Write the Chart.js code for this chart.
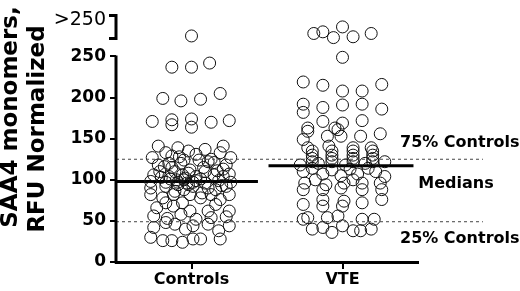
<!DOCTYPE html>
<html>
<head>
<meta charset="utf-8">
<script src="https://cdn.jsdelivr.net/npm/chart.js@4"></script>
<style>
  html, body { margin: 0; padding: 0; background: #fff; }
</style>
</head>
<body>
<canvas id="saa4" width="520" height="291"></canvas>
<script>
  // Groups along the x-axis
  const categories = ['Controls', 'VTE'];
  // Tick labels on the y-axis, and the broken-axis label above them
  const yTicks = [0, 50, 100, 150, 200, 250];
  const overflowLabel = '>250';
  const overflowAt = 294;
  const yTitle = ['SAA4 monomers,', 'RFU Normalized'];

  // Controls: RFU values and horizontal jitter (in category units)
  const controlsValues = [
    275,
    237, 237, 242,
    199, 196, 198, 205,
    171, 173, 167, 174, 164, 170, 172,
    141, 139, 137, 141,
    127, 129, 124, 125, 127, 133, 131, 133,
    118, 115, 112, 115, 113, 120, 121,
    106, 104, 106, 104, 106, 107, 110, 108, 110, 110,
    100, 100, 98, 97, 97, 101, 99, 97, 96, 101,
    90, 92, 94, 92, 90, 92, 88, 88,
    82, 82, 82, 82, 82, 78, 78, 76,
    66, 68, 62, 62, 62, 72, 72, 70,
    56, 58, 54, 52, 53, 55,
    42, 46, 44, 46, 44, 48, 40, 38,
    30, 26, 26, 24, 28, 28, 28,
    102, 97, 99, 94, 103, 96, 104, 120, 124, 118,
    135, 128, 111, 86, 84, 116, 122, 93
  ];
  const controlsJitter = [
    0,
    -0.13, 0, 0.12,
    -0.19, -0.07, 0.06, 0.19,
    -0.26, -0.13, -0.13, 0, 0, 0.13, 0.25,
    -0.22, -0.09, 0.09, 0.21,
    -0.26, -0.13, -0.05, 0.13, 0.26, -0.17, 0.03, 0.19,
    -0.22, -0.13, -0.01, 0.08, 0.21, -0.07, 0.15,
    -0.25, -0.15, -0.06, 0.03, 0.15, 0.25, -0.21, -0.02, 0.09, -0.11,
    -0.10, -0.05, -0.27, -0.17, 0.01, 0.06, 0.18, 0.26, -0.03, -0.14,
    -0.27, -0.17, -0.09, 0.01, 0.11, 0.23, -0.05, 0.16,
    -0.27, -0.12, -0.01, 0.13, 0.25, -0.19, 0.06, 0.19,
    -0.23, -0.12, -0.01, 0.11, 0.25, -0.17, -0.06, 0.16,
    -0.25, -0.07, 0.13, 0.03, -0.16, 0.23,
    -0.25, -0.11, 0.01, 0.11, 0.25, -0.17, -0.04, 0.18,
    -0.27, -0.19, -0.13, -0.06, 0.06, 0.19, 0.01,
    -0.04, -0.09, 0.03, -0.02, -0.20, 0.09, 0.21, -0.15, 0.05, 0.23,
    -0.02, -0.08, 0.17, -0.11, 0.07, -0.18, 0.11, 0.20
  ];

  // VTE: RFU values and horizontal jitter
  const vteValues = [
    278, 280, 273, 286, 274, 278,
    249,
    219, 215, 208, 208, 216,
    192, 182, 188, 191, 192, 186,
    171, 169, 172, 163, 163,
    159, 153, 161, 153, 156, 149, 153,
    139, 141, 139, 139,
    135, 130, 126, 122, 135, 130, 126, 122, 135, 130, 126, 122, 135, 130, 126, 122,
    118, 120, 118, 120, 122,
    110, 107, 105, 107, 110, 104, 114, 112, 113, 114,
    96, 94, 96, 96, 96, 100, 100,
    88, 88, 90, 88, 88,
    76, 76, 74,
    70, 68, 68, 72,
    52, 54, 54, 56, 52, 52,
    40, 42, 44, 38, 40, 36, 38
  ];
  const vteJitter = [
    -0.19, -0.13, -0.06, 0, 0.07, 0.19,
    0,
    -0.26, -0.13, 0, 0.13, 0.26,
    -0.26, -0.26, -0.13, 0, 0.13, 0.26,
    -0.13, 0, 0.13, -0.23, -0.05,
    -0.23, -0.10, -0.03, 0.12, 0.25, -0.26, -0.01,
    -0.23, -0.09, 0.07, 0.19,
    -0.20, -0.20, -0.20, -0.20, -0.07, -0.07, -0.07, -0.07, 0.07, 0.07, 0.07, 0.07, 0.20, 0.20, 0.20, 0.20,
    -0.28, -0.16, 0.02, 0.15, 0.28,
    -0.26, -0.13, -0.01, 0.10, 0.22, 0.28, -0.20, -0.07, 0.05, 0.17,
    -0.25, -0.11, 0.01, 0.13, 0.25, -0.18, 0.07,
    -0.26, -0.13, -0.01, 0.13, 0.26,
    0.26, -0.13, 0.01,
    -0.26, -0.13, 0, 0.13,
    -0.26, -0.23, -0.10, -0.03, 0.13, 0.21,
    -0.20, -0.13, 0, 0.07, 0.19, -0.07, 0.12
  ];

  const medians = [98, 117];
  const quartiles = { low: 49, high: 125 };

  const FONT = '"DejaVu Sans", "Liberation Sans", Arial, sans-serif';

  const points = (vals, jit, group) => vals.map((v, i) => ({ x: group + jit[i], y: v }));

  const circles = (data) => ({
    type: 'scatter',
    data: data,
    pointRadius: 6,
    pointHoverRadius: 6,
    pointBorderWidth: 1,
    borderColor: '#111',
    backgroundColor: 'rgba(0,0,0,0)'
  });

  const hline = (x0, x1, y, dashed) => ({
    type: 'line',
    data: [{ x: x0, y: y }, { x: x1, y: y }],
    borderColor: dashed ? '#444' : '#000',
    borderWidth: dashed ? 1 : 3,
    borderDash: dashed ? [3, 3] : [],
    pointRadius: 0,
    clip: false
  });

  // Broken y-axis line, bracket for >250, axis title and the right-hand notes
  const axisPlugin = {
    id: 'axisPlugin',
    afterDraw(chart) {
      const { ctx, chartArea } = chart;
      const y = chart.scales.y;
      const x0 = chartArea.left;
      ctx.save();
      ctx.strokeStyle = '#000';
      ctx.lineWidth = 3;
      ctx.beginPath();
      ctx.moveTo(x0, y.getPixelForValue(0) + 1.5);
      ctx.lineTo(x0, y.getPixelForValue(250) - 1);
      ctx.stroke();
      // bracket
      const bTop = y.getPixelForValue(300);
      const bBot = y.getPixelForValue(272);
      ctx.beginPath();
      ctx.moveTo(x0 - 7, bTop);
      ctx.lineTo(x0, bTop);
      ctx.lineTo(x0, bBot);
      ctx.lineTo(x0 - 7, bBot);
      ctx.stroke();

      ctx.fillStyle = '#000';
      // rotated axis title, two lines
      ctx.font = 'bold 23px ' + FONT;
      ctx.textAlign = 'center';
      ctx.textBaseline = 'middle';
      [[11, 117], [38, 129]].forEach(([tx, ty], i) => {
        ctx.save();
        ctx.translate(tx, ty);
        ctx.rotate(-Math.PI / 2);
        ctx.fillText(yTitle[i], 0, 0);
        ctx.restore();
      });

      ctx.font = 'bold 16px ' + FONT;
      ctx.textAlign = 'left';
      const lx = chartArea.right - 18;
      ctx.fillText('75% Controls', lx, y.getPixelForValue(quartiles.high) - 16);
      ctx.fillText('25% Controls', lx, y.getPixelForValue(quartiles.low) + 17);
      ctx.textAlign = 'center';
      ctx.fillText('Medians', lx + 56, y.getPixelForValue(medians[0]) + 2);
      ctx.restore();
    }
  };

  new Chart(document.getElementById('saa4'), {
    type: 'scatter',
    data: {
      datasets: [
        hline(0.5, 2.93, quartiles.high, true),
        hline(0.5, 2.93, quartiles.low, true),
        circles(points(controlsValues, controlsJitter, 1)),
        circles(points(vteValues, vteJitter, 2)),
        hline(0.5, 1.44, medians[0], false),
        hline(1.51, 2.47, medians[1], false)
      ]
    },
    options: {
      responsive: false,
      animation: false,
      devicePixelRatio: 1,
      layout: { padding: { top: 10, right: 102, left: 0, bottom: 0 } },
      plugins: { legend: { display: false }, tooltip: { enabled: false } },
      scales: {
        x: {
          type: 'linear',
          min: 0.5,
          max: 2.5,
          afterBuildTicks: (s) => { s.ticks = categories.map((c, i) => ({ value: i + 1 })); },
          afterFit: (s) => { s.height = 29; },
          ticks: {
            callback: (v) => categories[v - 1],
            autoSkip: false,
            maxRotation: 0,
            padding: 1,
            color: '#000',
            font: { family: FONT, size: 16, weight: 'bold' }
          },
          grid: { drawOnChartArea: false, drawTicks: true, tickLength: 7, color: '#000', lineWidth: 2 },
          border: { color: '#000', width: 3 }
        },
        y: {
          min: 0,
          max: 300,
          afterBuildTicks: (s) => { s.ticks = yTicks.concat([overflowAt]).map(v => ({ value: v })); },
          afterFit: (s) => { s.width = 116; },
          ticks: {
            callback: (v) => (v > 250 ? overflowLabel : v),
            padding: 4,
            color: '#000',
            font: (c) => (c.tick && c.tick.value > 250)
              ? { family: FONT, size: 19, weight: 'normal' }
              : { family: FONT, size: 17, weight: 'bold' }
          },
          grid: {
            drawOnChartArea: false,
            tickLength: 6,
            lineWidth: 2,
            color: (c) => (c.tick && c.tick.value > 250) ? 'rgba(0,0,0,0)' : '#000'
          },
          border: { display: false },
          title: { display: false }
        }
      }
    },
    plugins: [axisPlugin]
  });
</script>
</body>
</html>
